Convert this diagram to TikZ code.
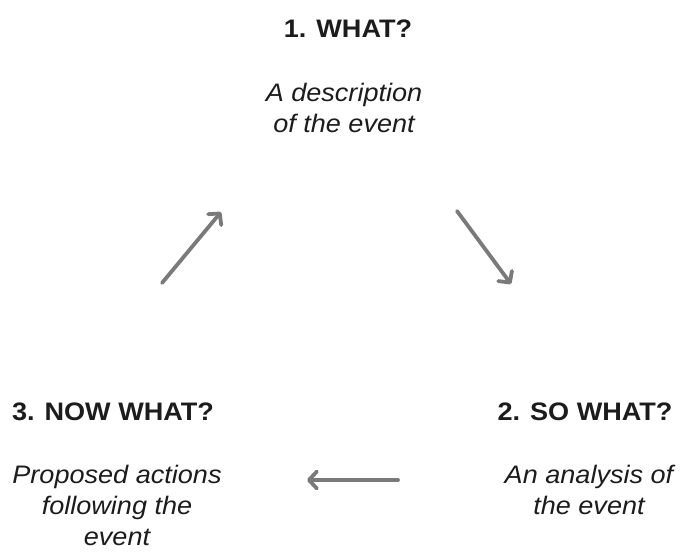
\documentclass[tikz,border=0pt]{standalone}
\usepackage{fontspec}
\setmainfont[FakeStretch=1.07]{Liberation Sans}
\usetikzlibrary{arrows.meta}
\definecolor{arrowgray}{HTML}{7A7A7A}
\definecolor{inkdark}{HTML}{1C1C1C}
\tikzset{
  title/.style={font=\fontsize{25.3}{31}\selectfont\bfseries, text=inkdark, inner sep=0pt, anchor=base},
  desc/.style={font=\fontsize{25.3}{31}\selectfont\itshape, text=inkdark, inner sep=0pt, anchor=north, align=center},
  flow/.style={draw=arrowgray, line width=3.8pt, line cap=round,
    -{Straight Barb[length=8pt, width=17pt, line cap=round, line join=round]}}
}
\begin{document}
\begin{tikzpicture}[x=1pt, y=-1pt]
  \useasboundingbox (0,0) rectangle (680,552);
  % stage 1
  \node[title] (t1) at (348,37) {1. WHAT?};
  \node[desc] (d1) at (344,83) {A description\\ of the event};
  % stage 2
  \node[title] (t2) at (585,420) {2. SO WHAT?};
  \node[desc] (d2) at (589,465) {An analysis of\\the event};
  % stage 3
  \node[title] (t3) at (113,420) {3. NOW WHAT?};
  \node[desc] (d3) at (117,465) {Proposed actions\\following the\\event};
  % cycle arrows
  \coordinate (a1s) at (162,283);
  \coordinate (a1e) at (221,212);
  \coordinate (a2s) at (457,211);
  \coordinate (a2e) at (511,284);
  \coordinate (a3s) at (398,480);
  \coordinate (a3e) at (307,480);
  \draw[flow] (a1s) -- (a1e);
  \draw[flow] (a2s) -- (a2e);
  \draw[flow] (a3s) -- (a3e);
\end{tikzpicture}
\end{document}
